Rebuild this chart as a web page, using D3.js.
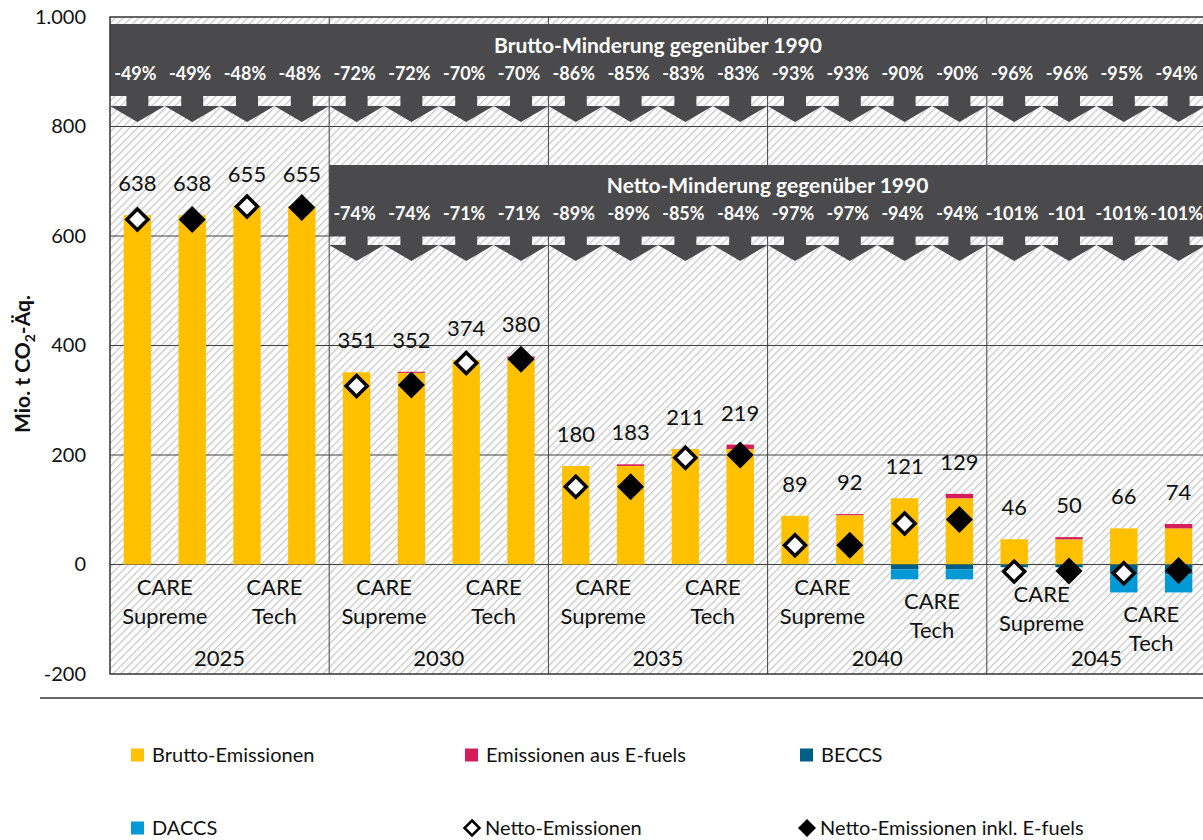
<!DOCTYPE html>
<html>
<head>
<meta charset="utf-8">
<script src="https://cdn.jsdelivr.net/npm/d3@7"></script>
<style>
  body { margin: 0; background: #fff; }
  svg { display: block; font-family: Lato, "Open Sans", sans-serif; }
</style>
</head>
<body>
<svg id="chart" width="1203" height="840"></svg>
<script>
// data
var years = ["2025", "2030", "2035", "2040", "2045"];
var scenarioNames = ["CARE Supreme", "CARE Supreme inkl. E-fuels", "CARE Tech", "CARE Tech inkl. E-fuels"];
var brutto = [[638, 638, 655, 655], [351, 350, 374, 376], [180, 180, 211, 211], [89, 90, 121, 121], [46, 46, 66, 66]];
var efuels = [[0, 0, 0, 0], [0, 2, 0, 4], [0, 3, 0, 8], [0, 2, 0, 8], [0, 4, 0, 8]];
var beccs = [[0, 0, 0, 0], [0, 0, -1, -1], [0, 0, -1, -1], [-1, -1, -9, -9], [-5, -5, -18, -18]];
var daccs = [[0, 0, 0, 0], [0, 0, 0, 0], [0, 0, 0, 0], [0, 0, -18, -18], [0, 0, -33, -33]];
var netto = [[630, 630, 654, 652], [326, 328, 368, 375], [142, 142, 195, 200], [35, 35, 75, 82], [-13, -12, -16, -11]];
var bruttoPct = [["-49%", "-49%", "-48%", "-48%"], ["-72%", "-72%", "-70%", "-70%"], ["-86%", "-85%", "-83%", "-83%"], ["-93%", "-93%", "-90%", "-90%"], ["-96%", "-96%", "-95%", "-94%"]];
var nettoPct = [null, ["-74%", "-74%", "-71%", "-71%"], ["-89%", "-89%", "-85%", "-84%"], ["-97%", "-97%", "-94%", "-94%"], ["-101%", "-101", "-101%", "-101%"]];
var groupLabels = [["CARE", "Supreme"], ["CARE", "Tech"]];
var yTicks = [-200, 0, 200, 400, 600, 800, 1000];
var yTickLabels = ["-200", "0", "200", "400", "600", "800", "1.000"];

var colors = { brutto: "#FFC000", efuels: "#D41E5C", beccs: "#005F87", daccs: "#0099D6" };
var dark = "#4A4A4C";

var svg = d3.select("#chart");
var plotL = 110, plotR = 1206, plotT = 17, plotB = 674;

var y = d3.scaleLinear().domain([-200, 1000]).range([plotB, plotT]);
var x0 = d3.scaleBand().domain(years).range([plotL, plotR]);
var x1 = d3.scaleBand().domain(d3.range(4)).range([0, x0.bandwidth()]);
var barW = x1.bandwidth() * 0.5;
var cx = function(g, i) { return x0(years[g]) + x1(i) + x1.bandwidth() / 2; };

// hatch pattern
var defs = svg.append("defs");
var pat = defs.append("pattern")
  .attr("id", "hatch").attr("patternUnits", "userSpaceOnUse")
  .attr("width", 5.5).attr("height", 5.5)
  .attr("patternTransform", "rotate(45)");
pat.append("rect").attr("width", 5.5).attr("height", 5.5).attr("fill", "#fff");
pat.append("line").attr("x1", 0.7).attr("y1", 0).attr("x2", 0.7).attr("y2", 5.5)
  .attr("stroke", "#c8c8c8").attr("stroke-width", 1.3);

svg.append("rect").attr("x", plotL).attr("y", plotT).attr("width", plotR - plotL).attr("height", plotB - plotT)
  .attr("fill", "url(#hatch)");

// gridlines
svg.append("g").selectAll("line").data(yTicks.slice(1, -1)).join("line")
  .attr("x1", plotL).attr("x2", plotR)
  .attr("y1", function(d) { return y(d); }).attr("y2", function(d) { return y(d); })
  .attr("stroke", "#404040").attr("stroke-width", 1);

// group dividers
svg.append("g").selectAll("line").data(years.slice(1)).join("line")
  .attr("x1", function(d) { return x0(d); }).attr("x2", function(d) { return x0(d); })
  .attr("y1", plotT).attr("y2", plotB)
  .attr("stroke", "#404040").attr("stroke-width", 1);

// y axis labels
var yAxis = d3.axisLeft(y).tickValues(yTicks).tickSize(0).tickPadding(0)
  .tickFormat(function(d, i) { return yTickLabels[i]; });
var ya = svg.append("g").attr("transform", "translate(86,0)").call(yAxis);
ya.select(".domain").remove();
ya.selectAll("text").attr("font-size", 20).attr("fill", "#111").attr("font-family", "Lato, sans-serif");

var yt = svg.append("text").attr("transform", "translate(30,364) rotate(-90)")
  .attr("text-anchor", "middle").attr("font-weight", "bold").attr("font-size", 21).attr("fill", "#111");
yt.append("tspan").text("Mio. t CO");
yt.append("tspan").attr("font-size", 14).attr("dy", 5).text("2");
yt.append("tspan").attr("dy", -5).text("-Äq.");

// stacked bars
var segs = [];
years.forEach(function(yr, g) {
  for (var i = 0; i < 4; i++) {
    var b = brutto[g][i], e = efuels[g][i], bc = beccs[g][i], dc = daccs[g][i];
    segs.push({ g: g, i: i, y0: 0, y1: b, c: colors.brutto });
    if (e) segs.push({ g: g, i: i, y0: b, y1: b + e, c: colors.efuels });
    if (bc) segs.push({ g: g, i: i, y0: 0, y1: bc, c: colors.beccs });
    if (dc) segs.push({ g: g, i: i, y0: bc, y1: bc + dc, c: colors.daccs });
  }
});
svg.append("g").selectAll("rect").data(segs).join("rect")
  .attr("x", function(d) { return cx(d.g, d.i) - barW / 2; })
  .attr("width", barW)
  .attr("y", function(d) { return y(Math.max(d.y0, d.y1)); })
  .attr("height", function(d) { return Math.abs(y(d.y0) - y(d.y1)); })
  .attr("fill", function(d) { return d.c; });

// value labels
var totals = [];
years.forEach(function(yr, g) {
  for (var i = 0; i < 4; i++) totals.push({ g: g, i: i, v: brutto[g][i] + efuels[g][i] });
});
svg.append("g").selectAll("text").data(totals).join("text")
  .attr("x", function(d) { return cx(d.g, d.i); })
  .attr("y", function(d) { return y(d.v) - 24; })
  .attr("text-anchor", "middle").attr("font-size", 22).attr("fill", "#111")
  .text(function(d) { return d.v; });

// netto markers
var marks = [];
years.forEach(function(yr, g) {
  for (var i = 0; i < 4; i++) marks.push({ g: g, i: i, v: netto[g][i], filled: i % 2 === 1 });
});
svg.append("g").selectAll("path").data(marks).join("path")
  .attr("d", function(d) {
    var r = d.filled ? 13.5 : 10.5;
    return "M0," + (-r) + "L" + r + ",0L0," + r + "L" + (-r) + ",0Z";
  })
  .attr("transform", function(d) { return "translate(" + cx(d.g, d.i) + "," + y(d.v) + ")"; })
  .attr("fill", function(d) { return d.filled ? "#000" : "#fff"; })
  .attr("stroke", "#000").attr("stroke-width", function(d) { return d.filled ? 0 : 3.5; });

// category labels
years.forEach(function(yr, g) {
  [0, 1].forEach(function(k) {
    var lo = 0;
    [2 * k, 2 * k + 1].forEach(function(i) {
      lo = Math.min(lo, beccs[g][i] + daccs[g][i], netto[g][i]);
    });
    var xc = (cx(g, 2 * k) + cx(g, 2 * k + 1)) / 2;
    var t = svg.append("text").attr("text-anchor", "middle").attr("font-size", 22).attr("fill", "#111");
    t.append("tspan").attr("x", xc).attr("y", y(lo) + 30).text(groupLabels[k][0]);
    t.append("tspan").attr("x", xc).attr("dy", 29).text(groupLabels[k][1]);
  });
  svg.append("text").attr("x", x0(yr) + x0.bandwidth() / 2).attr("y", y(-170) + 8)
    .attr("text-anchor", "middle").attr("font-size", 22).attr("fill", "#111").text(yr);
});

// reduction banners with arrows
function banner(g0, yTop, yBot, stemBot, tipY, title, titleY, pctY, pct) {
  var b = svg.append("g");
  var x = x0(years[g0]);
  b.append("rect").attr("x", x).attr("y", yTop).attr("width", plotR - x).attr("height", yBot - yTop).attr("fill", dark);
  var half = x1.bandwidth() / 2;
  for (var g = g0; g < years.length; g++) {
    for (var i = 0; i < 4; i++) {
      var c = cx(g, i);
      b.append("rect").attr("x", c - 11).attr("y", yBot - 1).attr("width", 22).attr("height", stemBot - yBot + 2).attr("fill", dark);
      b.append("path").attr("d", "M" + (c - half) + "," + stemBot + "L" + (c + half) + "," + stemBot + "L" + c + "," + tipY + "Z").attr("fill", dark);
      b.append("text").attr("x", c - 2).attr("y", pctY).attr("text-anchor", "middle")
        .attr("font-size", 18).attr("font-weight", "bold").attr("fill", "#fff").text(pct[g][i]);
    }
  }
  b.append("text").attr("x", (x + plotR) / 2).attr("y", titleY).attr("text-anchor", "middle")
    .attr("font-size", 21).attr("font-weight", "bold").attr("fill", "#fff").text(title);
}
banner(0, 24, 96, 106, 122, "Brutto-Minderung gegenüber 1990", 53, 80, bruttoPct);
banner(1, 165, 236, 245, 261, "Netto-Minderung gegenüber 1990", 193, 220, nettoPct);

// plot border
svg.append("rect").attr("x", plotL).attr("y", plotT).attr("width", plotR - plotL).attr("height", plotB - plotT)
  .attr("fill", "none").attr("stroke", "#333").attr("stroke-width", 1.5);

// separator line
svg.append("line").attr("x1", 40).attr("x2", 1203).attr("y1", 698).attr("y2", 698)
  .attr("stroke", "#333").attr("stroke-width", 1.5);

// legend
var legend = [
  { label: "Brutto-Emissionen", type: "sq", c: colors.brutto, x: 131, y: 755 },
  { label: "Emissionen aus E-fuels", type: "sq", c: colors.efuels, x: 465, y: 755 },
  { label: "BECCS", type: "sq", c: colors.beccs, x: 800, y: 755 },
  { label: "DACCS", type: "sq", c: colors.daccs, x: 131, y: 828 },
  { label: "Netto-Emissionen", type: "open", x: 465, y: 828 },
  { label: "Netto-Emissionen inkl. E-fuels", type: "filled", x: 800, y: 828 }
];
var lg = svg.append("g").selectAll("g").data(legend).join("g")
  .attr("transform", function(d) { return "translate(" + d.x + "," + d.y + ")"; });
lg.each(function(d) {
  var s = d3.select(this);
  if (d.type === "sq") {
    s.append("rect").attr("x", 0).attr("y", -6.5).attr("width", 13).attr("height", 13).attr("fill", d.c);
  } else {
    var r = d.type === "open" ? 7.5 : 9;
    s.append("path").attr("d", "M7," + (-r) + "L" + (7 + r) + ",0L7," + r + "L" + (7 - r) + ",0Z")
      .attr("fill", d.type === "open" ? "#fff" : "#000")
      .attr("stroke", "#000").attr("stroke-width", d.type === "open" ? 2.5 : 0);
  }
  s.append("text").attr("x", d.type === "sq" ? 21 : 20).attr("y", 7)
    .attr("font-size", 20).attr("fill", "#111").text(d.label);
});
</script>
</body>
</html>
